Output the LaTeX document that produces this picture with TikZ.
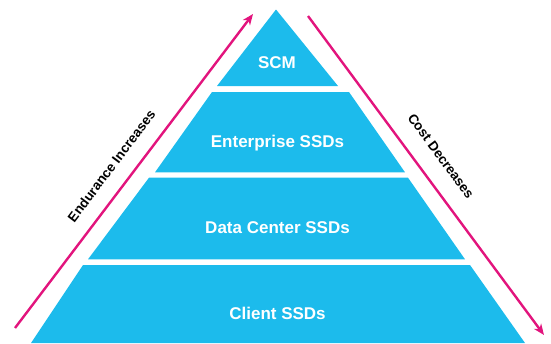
\documentclass[tikz,border=0pt]{standalone}
\usepackage{fontspec}
\setmainfont{Liberation Sans}
\usetikzlibrary{arrows.meta}
\definecolor{pyrblue}{RGB}{28,187,236}
\definecolor{arrmag}{RGB}{226,20,125}
\tikzset{
  band/.style={fill=pyrblue, draw=none},
  bandlabel/.style={text=white, font=\fontsize{17}{20}\selectfont\bfseries, inner sep=0pt},
  sidelabel/.style={text=black, font=\fontsize{13.5}{15}\selectfont\bfseries, inner sep=0pt},
  sidearrow/.style={draw=arrmag, line width=2.4pt, -{Stealth[length=11pt,width=9pt]}}
}
\begin{document}
\begin{tikzpicture}[x=1pt,y=-1pt]
\useasboundingbox (0,0) rectangle (551,343);
% bands
\fill[band] (276,9.5) -- (338,86) -- (217,86) -- cycle;
\fill[band] (212,92) -- (349,92) -- (405,172.3) -- (155,172.3) -- cycle;
\fill[band] (149,177.7) -- (408,177.7) -- (465,259.3) -- (88,259.3) -- cycle;
\fill[band] (83,265) -- (470,265) -- (525,343) -- (31,343) -- cycle;
% band labels
\node[bandlabel] (scm) at (277,62.5) {SCM};
\node[bandlabel] (ent) at (277.5,143) {Enterprise SSDs};
\node[bandlabel] (dc) at (277.5,228) {Data Center SSDs};
\node[bandlabel] (cli) at (277.5,313) {Client SSDs};
% arrows
\coordinate (lstart) at (15,328);
\coordinate (lend) at (253,14);
\coordinate (rstart) at (308,16);
\coordinate (rend) at (544,335);
\draw[sidearrow] (lstart) -- (lend);
\draw[sidearrow] (rstart) -- (rend);
% side labels
\node[sidelabel, rotate=53] (endu) at (111.5,166) {Endurance Increases};
\node[sidelabel, rotate=-53.5] (cost) at (441,156) {Cost Decreases};
\end{tikzpicture}
\end{document}
